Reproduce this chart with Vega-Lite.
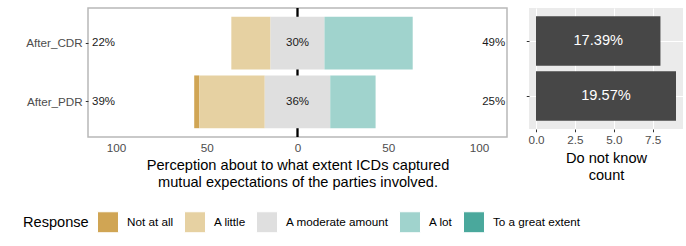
{
  "$schema": "https://vega.github.io/schema/vega-lite/v6.json",
  "autosize": {"type": "pad"},
  "padding": {"left": 23, "top": 6, "right": 0, "bottom": 0},
  "background": "white",
  "config": {
    "font": "Liberation Sans",
    "concat": {"spacing": 17},
    "axis": {
      "labelFont": "Liberation Sans",
      "titleFont": "Liberation Sans",
      "labelColor": "#4D4D4D",
      "labelFontSize": 11.7,
      "titleColor": "#000000",
      "titleFontSize": 14.6,
      "titleFontWeight": "normal",
      "tickColor": "#333333",
      "tickSize": 2.75,
      "domain": false
    },
    "legend": {
      "labelFont": "Liberation Sans",
      "titleFont": "Liberation Sans"
    }
  },
  "datasets": {
    "likert": [
      {"item": "After_CDR", "response": "Not at all", "level": 1, "pct": 0},
      {"item": "After_CDR", "response": "A little", "level": 2, "pct": 21.62},
      {"item": "After_CDR", "response": "A moderate amount", "level": 3, "pct": 29.73},
      {"item": "After_CDR", "response": "A lot", "level": 4, "pct": 48.65},
      {"item": "After_CDR", "response": "To a great extent", "level": 5, "pct": 0},
      {"item": "After_PDR", "response": "Not at all", "level": 1, "pct": 2.78},
      {"item": "After_PDR", "response": "A little", "level": 2, "pct": 36.11},
      {"item": "After_PDR", "response": "A moderate amount", "level": 3, "pct": 36.11},
      {"item": "After_PDR", "response": "A lot", "level": 4, "pct": 25.0},
      {"item": "After_PDR", "response": "To a great extent", "level": 5, "pct": 0}
    ],
    "dontknow": [
      {"item": "After_CDR", "count": 8, "label": "17.39%"},
      {"item": "After_PDR", "count": 9, "label": "19.57%"}
    ]
  },
  "hconcat": [
    {
      "width": 419,
      "height": 129,
      "view": {"stroke": "#B8B8B8", "strokeWidth": 1.5, "fill": "white"},
      "data": {"name": "likert"},
      "encoding": {
        "y": {
          "field": "item",
          "type": "nominal",
          "sort": ["After_CDR", "After_PDR"],
          "scale": {"paddingInner": 0.1, "paddingOuter": 0.15},
          "axis": {"title": null, "ticks": true, "labelPadding": 3, "grid": false}
        }
      },
      "layer": [
        {
          "mark": {"type": "rule", "color": "#000000", "strokeWidth": 1.2},
          "encoding": {"x": {"datum": 0, "type": "quantitative"}, "y": null}
        },
        {
          "transform": [
            {"calculate": "datum.level < 3 ? datum.pct : (datum.level == 3 ? datum.pct / 2 : 0)", "as": "neg"},
            {"stack": "pct", "groupby": ["item"], "sort": [{"field": "level", "order": "ascending"}], "as": ["v1", "v2"]},
            {"joinaggregate": [{"op": "sum", "field": "neg", "as": "offset"}], "groupby": ["item"]},
            {"calculate": "datum.v1 - datum.offset", "as": "xs"},
            {"calculate": "datum.v2 - datum.offset", "as": "xe"}
          ],
          "mark": {"type": "bar"},
          "encoding": {
            "x": {
              "field": "xs",
              "type": "quantitative",
              "scale": {"domain": [-115.5, 115.5], "nice": false, "zero": false},
              "axis": {
                "values": [-100, -50, 0, 50, 100],
                "labelExpr": "format(abs(datum.value), 'd')",
                "ticks": false,
                "grid": false,
                "labelPadding": 5,
                "titlePadding": 4,
                "title": ["Perception about to what extent ICDs captured", "mutual expectations of the parties involved."]
              }
            },
            "x2": {"field": "xe"},
            "color": {
              "field": "response",
              "type": "nominal",
              "scale": {
                "domain": ["Not at all", "A little", "A moderate amount", "A lot", "To a great extent"],
                "range": ["#D0A554", "#E6D1A2", "#DFDFDF", "#A0D3CD", "#4AA89C"]
              },
              "legend": {
                "title": "Response",
                "orient": "none",
                "direction": "horizontal",
                "legendX": -65,
                "legendY": 203,
                "titleOrient": "left",
                "titleFontSize": 14.6,
                "titleFontWeight": "normal",
                "titleColor": "#000000",
                "titlePadding": 8,
                "titleBaseline": "middle",
                "labelFontSize": 11.7,
                "labelColor": "#000000",
                "labelOffset": 8,
                "columnPadding": 8,
                "symbolType": "square",
                "symbolSize": 440,
                "symbolStrokeColor": "white",
                "symbolStrokeWidth": 1,
                "symbolOpacity": 1
              }
            }
          }
        },
        {
          "transform": [
            {"filter": "datum.level < 3"},
            {"aggregate": [{"op": "sum", "field": "pct", "as": "s"}], "groupby": ["item"]},
            {"calculate": "format(datum.s, '.0f') + '%'", "as": "lab"}
          ],
          "mark": {"type": "text", "align": "left", "baseline": "middle", "fontSize": 11.5, "color": "#1A1A1A"},
          "encoding": {"x": {"datum": -113.3, "type": "quantitative"}, "text": {"field": "lab"}}
        },
        {
          "transform": [
            {"filter": "datum.level == 3"},
            {"calculate": "format(datum.pct, '.0f') + '%'", "as": "lab"}
          ],
          "mark": {"type": "text", "align": "center", "baseline": "middle", "fontSize": 11.5, "color": "#1A1A1A"},
          "encoding": {"x": {"datum": 0, "type": "quantitative"}, "text": {"field": "lab"}}
        },
        {
          "transform": [
            {"filter": "datum.level > 3"},
            {"aggregate": [{"op": "sum", "field": "pct", "as": "s"}], "groupby": ["item"]},
            {"calculate": "format(datum.s, '.0f') + '%'", "as": "lab"}
          ],
          "mark": {"type": "text", "align": "right", "baseline": "middle", "fontSize": 11.5, "color": "#1A1A1A"},
          "encoding": {"x": {"datum": 114.5, "type": "quantitative"}, "text": {"field": "lab"}}
        }
      ]
    },
    {
      "width": 154,
      "height": 121,
      "view": {"stroke": null, "fill": "#EBEBEB"},
      "data": {"name": "dontknow"},
      "encoding": {
        "y": {
          "field": "item",
          "type": "nominal",
          "sort": ["After_CDR", "After_PDR"],
          "scale": {"paddingInner": 0.1, "paddingOuter": 0.15},
          "axis": {
            "title": null,
            "labels": false,
            "ticks": true,
            "grid": true,
            "gridColor": "#FFFFFF",
            "gridWidth": 1.1,
            "bandPosition": 0.5
          }
        }
      },
      "layer": [
        {
          "mark": {"type": "bar", "color": "#474747"},
          "encoding": {
            "x": {
              "field": "count",
              "type": "quantitative",
              "scale": {"domain": [-0.45, 9.45], "nice": false, "zero": false},
              "axis": {
                "values": [0, 1.25, 2.5, 3.75, 5, 6.25, 7.5, 8.75],
                "labelExpr": "datum.value % 2.5 === 0 ? format(datum.value, '.1f') : ''",
                "grid": true,
                "gridColor": "#FFFFFF",
                "gridWidth": {"condition": {"test": "datum.value % 2.5 === 0", "value": 1.1}, "value": 0.5},
                "tickOpacity": {"condition": {"test": "datum.value % 2.5 === 0", "value": 1}, "value": 0},
                "labelPadding": 3,
                "titlePadding": 4,
                "title": ["Do not know", "count"]
              }
            }
          }
        },
        {
          "transform": [{"calculate": "datum.count / 2", "as": "mid"}],
          "mark": {"type": "text", "align": "center", "baseline": "middle", "fontSize": 14.6, "color": "#FFFFFF"},
          "encoding": {"x": {"field": "mid", "type": "quantitative"}, "text": {"field": "label"}}
        }
      ]
    }
  ]
}
